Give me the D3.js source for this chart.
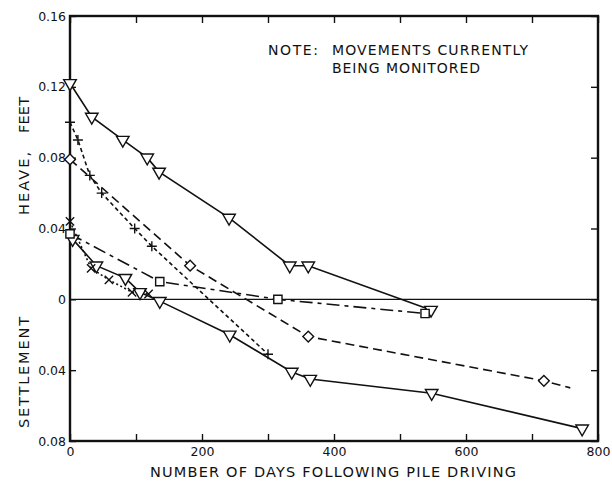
<!DOCTYPE html>
<html>
<head>
<meta charset="utf-8">
<script src="https://cdn.jsdelivr.net/npm/d3@7"></script>
<style>
  body { margin: 0; background: #fff; }
  text { font-family: "DejaVu Sans", sans-serif; fill: #111; }
</style>
</head>
<body>
<svg id="chart"></svg>
<script>
// data: [days, movement in feet] (settlement negative)
var triUpper   = [[0,0.122],[33,0.103],[80,0.090],[117,0.080],[135,0.072],[241,0.046],[333,0.019],[361,0.019],[547,-0.006]];
var triLower   = [[4,0.034],[40,0.019],[84,0.012],[106,0.004],[136,-0.001],[242,-0.020],[336,-0.041],[364,-0.045],[548,-0.053],[776,-0.073]];
var diamonds   = [[0,0.079],[182,0.019],[361,-0.021],[718,-0.046]];
var diamondEnd = [758,-0.050];
var squares    = [[0,0.037],[136,0.010],[315,0.0],[538,-0.008]];
var pluses     = [[0,0.100],[12,0.090],[30,0.070],[48,0.060],[98,0.040],[124,0.030],[300,-0.031]];
var crosses    = [[0,0.044],[32,0.0175],[59,0.011],[94,0.004],[119,0.003]];

var xTicks = [0,100,200,300,400,500,600,700,800];
var yTicks = [-0.08,-0.04,0,0.04,0.08,0.12,0.16];

// dimensions
var margin = { left:70, right:14, top:16, bottom:46 },
    width = 612 - margin.left - margin.right,
    height = 487 - margin.top - margin.bottom;

var svg = d3.select("#chart")
  .attr("width", 612)
  .attr("height", 487);
var g = svg.append("g")
  .attr("transform", "translate(" + margin.left + "," + margin.top + ")");

// scales
var x = d3.scaleLinear().domain([0, 800]).range([0, width]);
var y = d3.scaleLinear().domain([-0.08, 0.16]).range([height, 0]);

// axes, ticks pointing inward
var xAxis = d3.axisBottom(x).tickValues(xTicks).tickSizeInner(-7).tickSizeOuter(0).tickPadding(6)
    .tickFormat(function(d){ return d % 200 === 0 ? d : ""; });
var yAxis = d3.axisLeft(y).tickValues(yTicks).tickSizeInner(-6).tickSizeOuter(0).tickPadding(5)
    .tickFormat(function(d){ return d === 0 ? "0" : d3.format(".2f")(Math.abs(d)); });

var gx = g.append("g").attr("transform", "translate(0," + height + ")").call(xAxis);
var gy = g.append("g").call(yAxis);
g.append("g").call(d3.axisTop(x).tickValues(xTicks).tickSizeInner(-7).tickSizeOuter(0).tickFormat(""));
g.append("g").attr("transform", "translate(" + width + ",0)")
  .call(d3.axisRight(y).tickValues(yTicks).tickSizeInner(-7).tickSizeOuter(0).tickFormat(""));

g.selectAll(".domain").remove();
g.selectAll(".tick line").attr("stroke", "#111").attr("stroke-width", 1.4);
gx.selectAll("text").attr("font-size", 12.5).attr("fill", "#111");
gy.selectAll("text").attr("font-size", 12.5).attr("fill", "#111").attr("dx", "1");

// zero line
g.append("line")
  .attr("x1", 0).attr("x2", width)
  .attr("y1", y(0)).attr("y2", y(0))
  .attr("stroke", "#111").attr("stroke-width", 1.3);

// frame
g.append("rect")
  .attr("width", width).attr("height", height)
  .attr("fill", "none").attr("stroke", "#111").attr("stroke-width", 2.4);

// line generator
var line = d3.line()
  .x(function(d){ return x(d[0]); })
  .y(function(d){ return y(d[1]); });

// stroke-only marker shapes
var plusType = { draw: function(ctx, size){ var r = Math.sqrt(size) / 2;
  ctx.moveTo(-r, 0); ctx.lineTo(r, 0); ctx.moveTo(0, -r); ctx.lineTo(0, r); } };
var crossType = { draw: function(ctx, size){ var r = Math.sqrt(size) / 2.4;
  ctx.moveTo(-r, -r); ctx.lineTo(r, r); ctx.moveTo(r, -r); ctx.lineTo(-r, r); } };

var series = [
  { pts: triUpper, dash: null,          sym: d3.symbolTriangle, size: 68, rot: 180, fill: "#fff" },
  { pts: triLower, dash: null,          sym: d3.symbolTriangle, size: 68, rot: 180, fill: "#fff" },
  { pts: diamonds.concat([diamondEnd]), marks: diamonds, dash: "9,5", sym: d3.symbolSquare, size: 58, rot: 45, fill: "#fff" },
  { pts: squares,  dash: "13,5,4,5",    sym: d3.symbolSquare, size: 68, rot: 0, fill: "#fff" },
  { pts: pluses,   dash: "4,3",         sym: plusType, size: 100, rot: 0, fill: "none" },
  { pts: crosses,  dash: "2,2.5",       sym: crossType, size: 100, rot: 0, fill: "none" }
];

series.forEach(function(s){
  g.append("path")
    .attr("d", line(s.pts))
    .attr("fill", "none")
    .attr("stroke", "#111")
    .attr("stroke-width", 1.6)
    .attr("stroke-dasharray", s.dash);
});

series.forEach(function(s){
  g.selectAll(null)
    .data(s.marks || s.pts)
    .enter().append("path")
    .attr("d", d3.symbol().type(s.sym).size(s.size))
    .attr("transform", function(d){ return "translate(" + x(d[0]) + "," + y(d[1]) + ") rotate(" + s.rot + ")"; })
    .attr("fill", s.fill)
    .attr("stroke", "#111")
    .attr("stroke-width", 1.4);
});

// axis titles
svg.append("text")
  .attr("x", 150).attr("y", 477)
  .attr("font-size", 14.5)
  .attr("textLength", 366).attr("lengthAdjust", "spacing")
  .text("NUMBER OF DAYS FOLLOWING PILE DRIVING");

svg.append("text")
  .attr("transform", "translate(29,215) rotate(-90)")
  .attr("font-size", 14.5)
  .attr("textLength", 63).attr("lengthAdjust", "spacing")
  .text("HEAVE,");
svg.append("text")
  .attr("transform", "translate(29,133) rotate(-90)")
  .attr("font-size", 14.5)
  .attr("textLength", 36).attr("lengthAdjust", "spacing")
  .text("FEET");
svg.append("text")
  .attr("transform", "translate(29,428) rotate(-90)")
  .attr("font-size", 14.5)
  .attr("textLength", 111).attr("lengthAdjust", "spacing")
  .text("SETTLEMENT");

// note
svg.append("text").attr("x", 268).attr("y", 55).attr("font-size", 14)
  .attr("textLength", 50).attr("lengthAdjust", "spacing").text("NOTE:");
svg.append("text").attr("x", 332).attr("y", 55).attr("font-size", 14)
  .attr("textLength", 196).attr("lengthAdjust", "spacing").text("MOVEMENTS CURRENTLY");
svg.append("text").attr("x", 332).attr("y", 73).attr("font-size", 14)
  .attr("textLength", 148).attr("lengthAdjust", "spacing").text("BEING MONITORED");
</script>
</body>
</html>
